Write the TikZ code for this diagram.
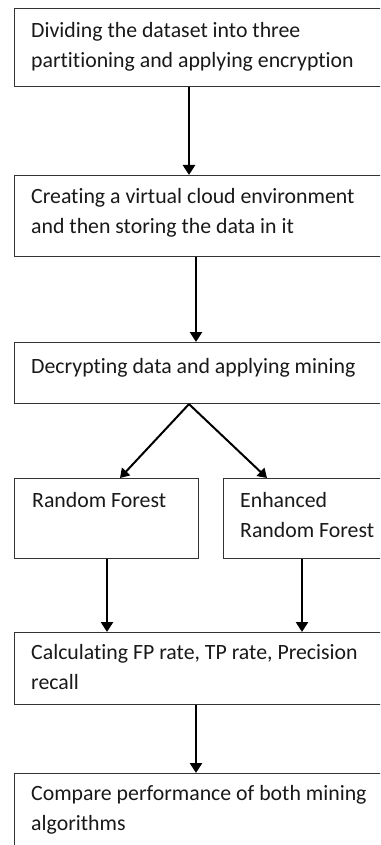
\documentclass[tikz,border=0pt]{standalone}
\usepackage{fontspec}
\setmainfont{Carlito}[Ligatures=NoCommon]
\usetikzlibrary{arrows.meta}
% first-line strut so every caption's first baseline sits 20pt below its top
\newcommand{\firstline}{\rule{0pt}{20pt}}
\begin{document}
\begin{tikzpicture}[x=1pt,y=-1pt,
  stepbox/.style={draw=black!80, line width=1.1pt, rectangle, inner sep=0pt, anchor=north west},
  caption/.style={anchor=north west, inner sep=0pt, align=left, text=black!90,
    font=\fontsize{21.8}{30}\selectfont},
  flow/.style={line width=2.5pt, -{Triangle[width=12pt,length=10pt]}},
  fork/.style={line width=2pt, -{Triangle[width=11pt,length=9pt]}}]
\clip (0,0) rectangle (380,845);
\fill[white] (0,0) rectangle (380,845);

% process boxes (they run past the right and bottom edges)
\node[stepbox, minimum width=386pt, minimum height=78pt] (b1) at (14,8) {};
\node[stepbox, minimum width=386pt, minimum height=81pt] (b2) at (14,175) {};
\node[stepbox, minimum width=386pt, minimum height=61pt] (b3) at (14,342) {};
\node[stepbox, minimum width=184pt, minimum height=80pt] (rf) at (14,478) {};
\node[stepbox, minimum width=177pt, minimum height=80pt] (erf) at (223,478) {};
\node[stepbox, minimum width=386pt, minimum height=72pt] (calc) at (14,632) {};
\node[stepbox, minimum width=386pt, minimum height=90pt] (cmp) at (14,773) {};

% captions
\node[caption] (t1) at ([xshift=17pt,yshift=-9pt]b1.north west)
  {\firstline Dividing the dataset into three\\partitioning and applying encryption};
\node[caption] (t2) at ([xshift=17pt,yshift=-8pt]b2.north west)
  {\firstline Creating a virtual cloud environment\\and then storing the data in it};
\node[caption] (t3) at ([xshift=17pt,yshift=-11pt]b3.north west)
  {\firstline Decrypting data and applying mining};
\node[caption] (t4) at ([xshift=18pt,yshift=-9pt]rf.north west)
  {\firstline Random Forest};
\node[caption] (t5) at ([xshift=17pt,yshift=-9pt]erf.north west)
  {\firstline Enhanced\\Random Forest};
\node[caption] (t6) at ([xshift=17pt,yshift=-7pt]calc.north west)
  {\firstline Calculating FP rate, TP rate, Precision\\recall};
\node[caption] (t7) at ([xshift=17pt,yshift=-7pt]cmp.north west)
  {\firstline Compare performance of both mining\\algorithms};

% connectors
\draw[flow] ([xshift=175pt]b1.south west) -- ([xshift=175pt]b2.north west);
\draw[flow] ([xshift=182pt]b2.south west) -- ([xshift=182pt]b3.north west);
\draw[fork] ([xshift=175pt]b3.south west) -- ([xshift=106pt]rf.north west);
\draw[fork] ([xshift=175pt]b3.south west) -- ([xshift=44pt]erf.north west);
\draw[flow] ([xshift=93pt]rf.south west) -- ([xshift=93pt]calc.north west);
\draw[flow] ([xshift=79pt]erf.south west) -- ([xshift=288pt]calc.north west);
\draw[flow] ([xshift=182pt]calc.south west) -- ([xshift=182pt]cmp.north west);
\end{tikzpicture}
\end{document}
